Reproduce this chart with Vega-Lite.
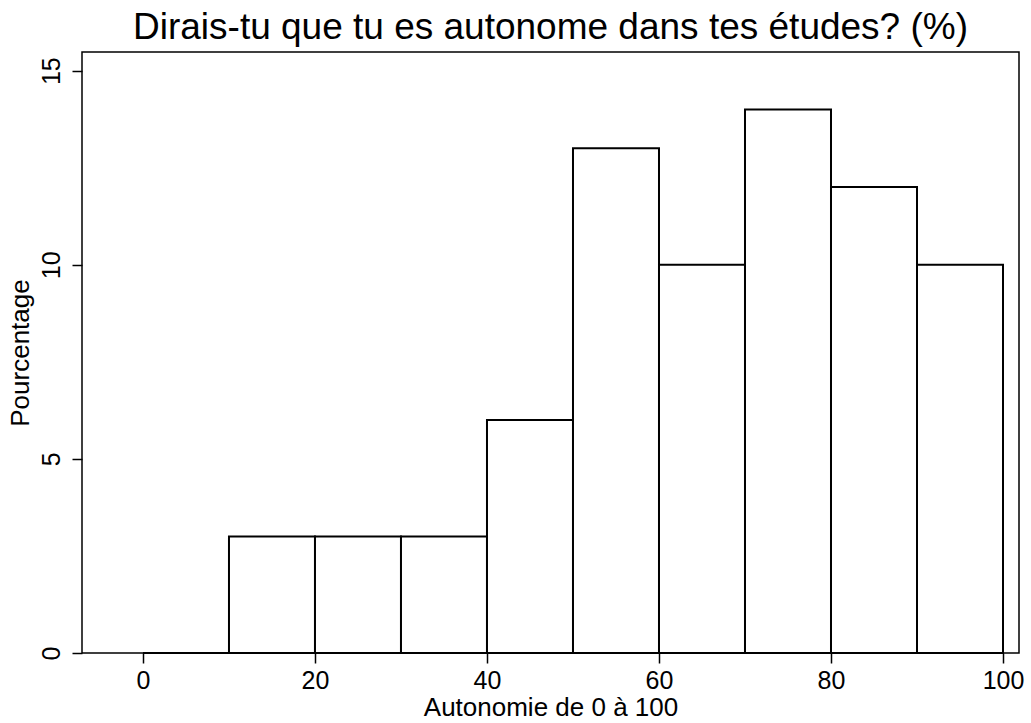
{
  "$schema": "https://vega.github.io/schema/vega-lite/v6.json",
  "autosize": "none",
  "padding": {"left": 82, "top": 52, "right": 12, "bottom": 70},
  "width": 937,
  "height": 601,
  "background": "white",
  "title": {
    "text": "Dirais-tu que tu es autonome dans tes études? (%)",
    "font": "Liberation Sans",
    "fontSize": 37,
    "fontWeight": "normal",
    "color": "black",
    "anchor": "middle",
    "offset": 5
  },
  "config": {
    "view": {"stroke": "black", "strokeWidth": 1.5},
    "axis": {
      "domain": false,
      "grid": false,
      "ticks": true,
      "tickColor": "black",
      "tickSize": 10,
      "tickWidth": 1.5,
      "labelFont": "Liberation Sans",
      "labelFontSize": 25,
      "labelColor": "black",
      "titleFont": "Liberation Sans",
      "titleFontSize": 26,
      "titleFontWeight": "normal",
      "titleColor": "black"
    }
  },
  "data": {
    "values": [
      {"bin_start": 0, "bin_end": 10, "pct": 0},
      {"bin_start": 10, "bin_end": 20, "pct": 3},
      {"bin_start": 20, "bin_end": 30, "pct": 3},
      {"bin_start": 30, "bin_end": 40, "pct": 3},
      {"bin_start": 40, "bin_end": 50, "pct": 6},
      {"bin_start": 50, "bin_end": 60, "pct": 13},
      {"bin_start": 60, "bin_end": 70, "pct": 10},
      {"bin_start": 70, "bin_end": 80, "pct": 14},
      {"bin_start": 80, "bin_end": 90, "pct": 12},
      {"bin_start": 90, "bin_end": 100, "pct": 10}
    ]
  },
  "mark": {"type": "rect", "fill": "white", "stroke": "black", "strokeWidth": 2},
  "encoding": {
    "x": {
      "field": "bin_start",
      "type": "quantitative",
      "scale": {"domain": [-7.09, 101.86], "nice": false, "zero": false},
      "axis": {"values": [0, 20, 40, 60, 80, 100], "title": "Autonomie de 0 à 100", "labelPadding": 5, "titlePadding": 1}
    },
    "x2": {"field": "bin_end"},
    "y": {
      "field": "pct",
      "type": "quantitative",
      "scale": {"domain": [0, 15.48], "nice": false},
      "axis": {"values": [0, 5, 10, 15], "title": "Pourcentage", "labelAngle": -90, "labelAlign": "center", "labelBaseline": "bottom", "labelPadding": 8, "titlePadding": 6}
    },
    "y2": {"datum": 0}
  }
}
